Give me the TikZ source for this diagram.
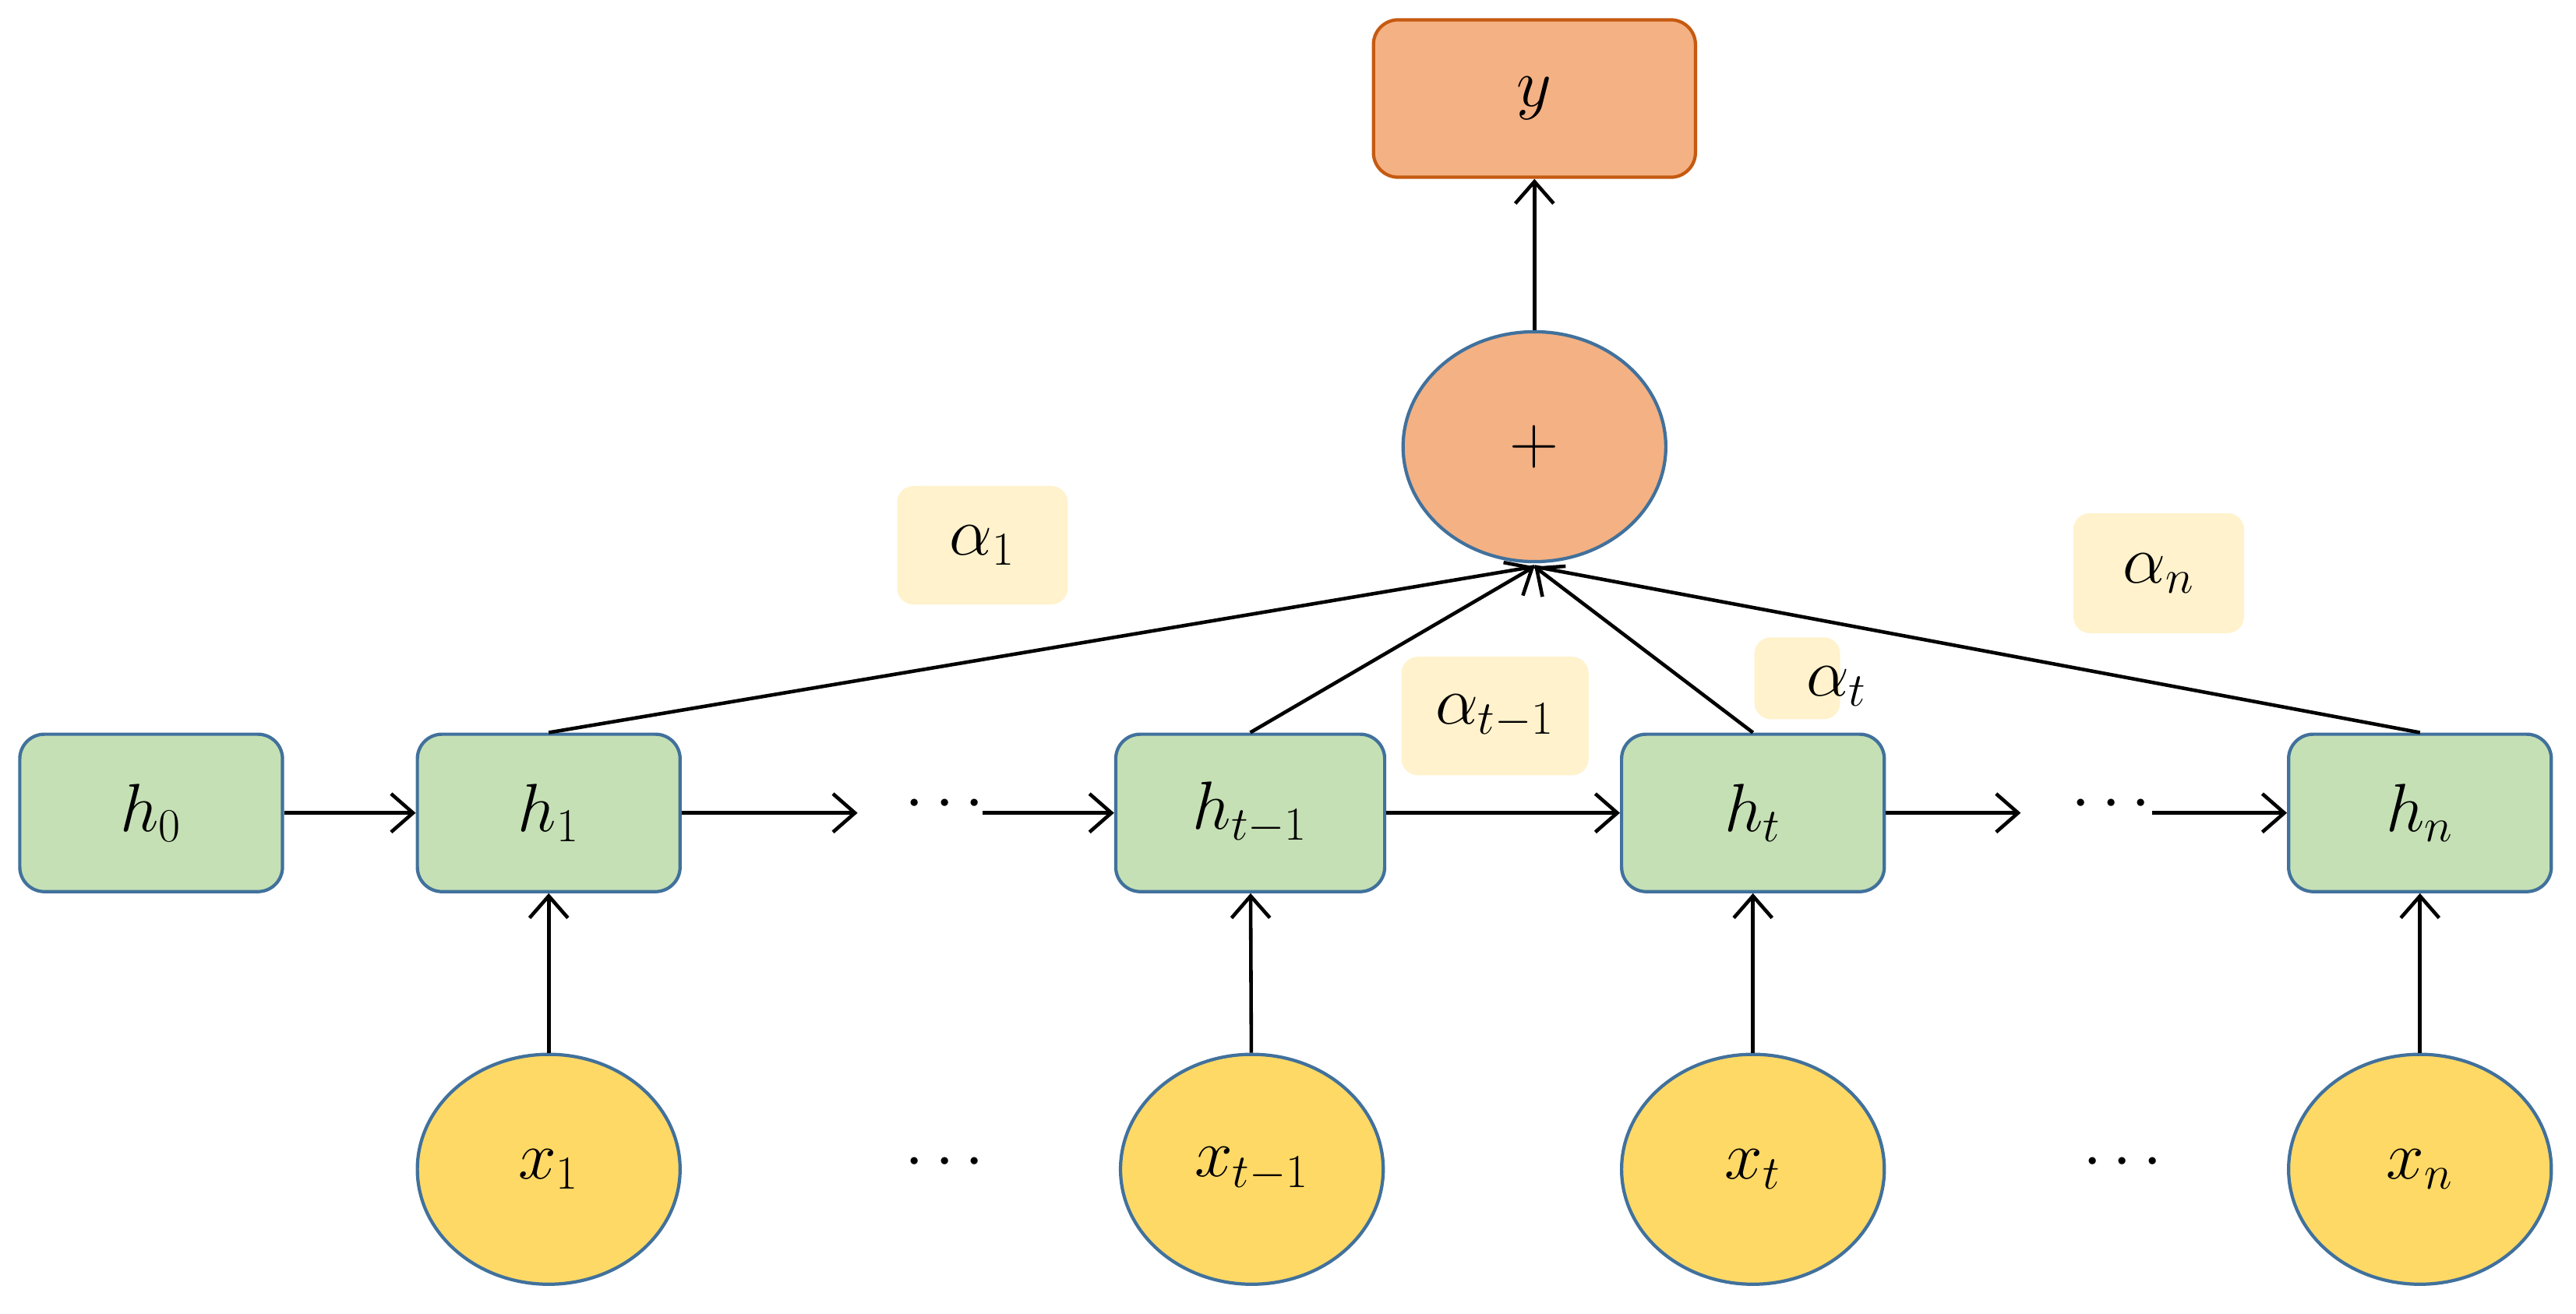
\documentclass[tikz,border=0pt]{standalone}
\usetikzlibrary{shapes.geometric,arrows.meta}
\begin{document}
\begin{tikzpicture}[x=0.02108cm,y=-0.02108cm,
 hbox/.style={draw=blue!45!black!70,line width=1.2pt,fill=green!45!lime!25!white,rounded corners=9pt,minimum width=3.37cm,minimum height=2.02cm,font=\fontsize{26}{30}\selectfont},
 xel/.style={ellipse,draw=blue!45!black!70,line width=1.2pt,fill=yellow!70!orange!75,minimum width=3.37cm,minimum height=2.95cm,inner sep=0pt,font=\fontsize{26}{30}\selectfont},
 lab/.style={fill=yellow!20!orange!12,rounded corners=6pt,font=\fontsize{26}{30}\selectfont},
 arr/.style={-{Straight Barb[length=8pt,width=14pt]},line width=1.3pt},
 ln/.style={line width=1.3pt}]
\useasboundingbox (0,0) rectangle (1568,800);
\definecolor{hg}{HTML}{C5E0B4}\definecolor{yl}{HTML}{FFD966}\definecolor{og}{HTML}{F4B183}\definecolor{bd}{HTML}{41719C}\definecolor{ob}{HTML}{C55A11}\definecolor{lb}{HTML}{FFF2CC}
\tikzset{hbox/.append style={fill=hg,draw=bd},xel/.append style={fill=yl,draw=bd},lab/.append style={fill=lb}}
\node[hbox,fill=og,draw=ob,minimum width=4.13cm] (y) at (934,60) {$y$};
\node[xel,fill=og,draw=bd] (p) at (934,272) {$+$};
\node[hbox] (h0) at (92,495) {$h_0$};
\node[hbox] (h1) at (334,495) {$h_1$};
\node[hbox,minimum width=3.45cm] (ht1) at (761,495) {$h_{t-1}$};
\node[hbox] (ht) at (1067,495) {$h_t$};
\node[hbox] (hn) at (1473,495) {$h_n$};
\node[xel] (x1) at (334,712) {$x_1$};
\node[xel] (xt1) at (762,712) {$x_{t-1}$};
\node[xel] (xt) at (1067,712) {$x_t$};
\node[xel] (xn) at (1473,712) {$x_n$};
\node[font=\fontsize{26}{30}\selectfont] (d1) at (575,490) {$\cdots$};
\node[font=\fontsize{26}{30}\selectfont] (d2) at (1285,490) {$\cdots$};
\node[font=\fontsize{26}{30}\selectfont] (d3) at (575,708) {$\cdots$};
\node[font=\fontsize{26}{30}\selectfont] (d4) at (1292,708) {$\cdots$};
\coordinate (a1) at (522,495); \coordinate (a2) at (1230,495);
\coordinate (b1) at (598,495); \coordinate (b2) at (1310,495);
\coordinate (m) at (934,345);
\draw[arr] (h0) -- (h1);
\draw[arr] (h1) -- (a1);
\draw[arr] (b1) -- (ht1);
\draw[arr] (ht1) -- (ht);
\draw[arr] (ht) -- (a2);
\draw[arr] (b2) -- (hn);
\foreach \a/\b in {x1/h1,xt1/ht1,xt/ht,xn/hn} \draw[arr] (\a) -- (\b);
\draw[arr] (p) -- (y);
\draw[ln] (h1.north) -- (m); \draw[ln] (hn.north) -- (m);
\draw[arr] (ht1.north) -- (m); \draw[arr] (ht.north) -- (m);
\node[lab,minimum width=2.19cm,minimum height=1.52cm] (l1) at (598,332) {$\alpha_1$};
\node[lab,minimum width=2.4cm,minimum height=1.52cm] (l2) at (910,436) {$\alpha_{t-1}$};
\node[lab,fill=lb,minimum width=1.1cm,minimum height=1.05cm] (l3b) at (1094,413) {};
\node[font=\fontsize{26}{30}\selectfont] (l3) at (1118,418) {$\alpha_t$};
\node[lab,minimum width=2.19cm,minimum height=1.54cm] (ln) at (1314,349) {$\alpha_n$};
\end{tikzpicture}
\end{document}
